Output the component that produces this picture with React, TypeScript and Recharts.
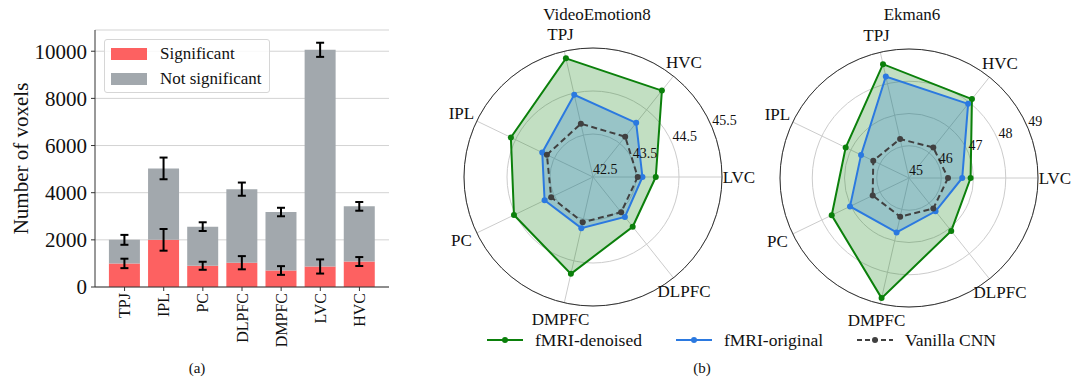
import React from "react";
import {
  BarChart,
  Bar,
  XAxis,
  YAxis,
  CartesianGrid,
  ErrorBar,
  Legend,
  RadarChart,
  Radar,
  PolarGrid,
  PolarAngleAxis,
  PolarRadiusAxis,
} from "recharts";

const SERIF = '"Liberation Serif", "DejaVu Serif", serif';

// (a) voxel counts per region
const barRegions = ["TPJ", "IPL", "PC", "DLPFC", "DMPFC", "LVC", "HVC"];
const sigCounts = [1000, 2000, 900, 1030, 700, 870, 1080];
const sigErr = [200, 460, 170, 280, 185, 300, 190];
const totalCounts = [2000, 5030, 2560, 4150, 3180, 10060, 3420];
const totalErr = [210, 460, 185, 280, 180, 300, 185];
const voxelTicks = [0, 2000, 4000, 6000, 8000, 10000];

// (b) accuracy per region, listed clockwise from LVC (3 o'clock)
const radarRegions = ["LVC", "DLPFC", "DMPFC", "PC", "IPL", "TPJ", "HVC"];
const ve8Denoised = [43.96, 43.98, 44.81, 44.54, 44.62, 45.33, 45.07];
const ve8Original = [43.65, 43.69, 43.72, 43.75, 43.81, 44.46, 44.11];
const ve8Vanilla = [43.54, 43.55, 43.58, 43.58, 43.69, 43.77, 43.7];
const ve8Ticks = [42.5, 43.5, 44.5, 45.5];
const ek6Denoised = [46.91, 47.1, 48.82, 47.66, 47.18, 48.62, 48.13];
const ek6Original = [46.65, 46.32, 46.73, 47.03, 46.65, 48.23, 47.94];
const ek6Vanilla = [46.21, 46.21, 46.23, 46.25, 46.23, 46.24, 46.21];
const ek6Ticks = [45, 46, 47, 48, 49];

const RED = "#fd6161";
const GRAY = "#a2a8ad";
const GREEN = "#0b800b";
const BLUE = "#2b79e0";
const DARK = "#404040";
const R = 129;

const barData = barRegions.map((region, i) => ({
  region,
  sig: sigCounts[i],
  sigErr: sigErr[i],
  rest: totalCounts[i] - sigCounts[i],
  totalErr: totalErr[i],
}));

const radarData = (d: number[], o: number[], v: number[]) =>
  radarRegions.map((region, i) => ({
    region,
    denoised: d[i],
    original: o[i],
    vanilla: v[i],
  }));

const RotTick = ({ x, y, payload }: any) => (
  <text
    x={x}
    y={y}
    transform={`rotate(-90 ${x} ${y})`}
    textAnchor="end"
    dominantBaseline="central"
    fontSize={16}
    fontFamily={SERIF}
    fill="#111"
  >
    {payload.value}
  </text>
);

const BarLegend = () => (
  <div
    style={{
      border: "1px solid #d6d6d6",
      borderRadius: 3,
      background: "rgba(255,255,255,0.85)",
      padding: "1px 7px 1px 6px",
      fontFamily: SERIF,
      fontSize: 17,
      color: "#111",
    }}
  >
    {[
      ["Significant", RED],
      ["Not significant", GRAY],
    ].map(([name, c]) => (
      <div key={name} style={{ display: "flex", alignItems: "center", height: 25 }}>
        <span style={{ width: 36, height: 12, background: c, marginRight: 13 }} />
        <span>{name}</span>
      </div>
    ))}
  </div>
);

const makeAngleTick = (cx: number, cy: number) => (props: any) => {
  const { x, y, payload } = props;
  const dx = x - cx;
  const dy = y - cy;
  const d = Math.hypot(dx, dy) || 1;
  const px = cx + (dx / d) * (R + 17);
  const py = cy + (dy / d) * (R + 17);
  return (
    <text
      x={px}
      y={py}
      textAnchor="middle"
      dominantBaseline="central"
      fontSize={17}
      fontFamily={SERIF}
      fill="#111"
    >
      {payload.value}
    </text>
  );
};

const RadiusTick = ({ x, y, payload }: any) => (
  <text x={x} y={y - 3} textAnchor="start" fontSize={14} fontFamily={SERIF} fill="#111">
    {payload.value}
  </text>
);

function Spider({ data, ticks, cx, cy }: { data: any[]; ticks: number[]; cx: number; cy: number }) {
  const lo = ticks[0];
  const hi = ticks[ticks.length - 1];
  return (
    <RadarChart
      width={360}
      height={330}
      data={data}
      cx={cx}
      cy={cy}
      outerRadius={R}
      startAngle={0}
      endAngle={-360}
      margin={{ top: 0, right: 0, bottom: 0, left: 0 }}
    >
      <PolarGrid gridType="circle" stroke="#cccccc" />
      <PolarAngleAxis
        dataKey="region"
        axisLineType="circle"
        axisLine={{ stroke: "#333", strokeWidth: 1 }}
        tickLine={false}
        tick={makeAngleTick(cx, cy)}
      />
      <Radar
        dataKey="denoised"
        stroke={GREEN}
        strokeWidth={2}
        fill={GREEN}
        fillOpacity={0.25}
        dot={{ r: 3, fill: GREEN, fillOpacity: 1, strokeWidth: 0 }}
        isAnimationActive={false}
      />
      <Radar
        dataKey="original"
        stroke={BLUE}
        strokeWidth={2}
        fill="#1a73d8"
        fillOpacity={0.25}
        dot={{ r: 3, fill: BLUE, fillOpacity: 1, strokeWidth: 0 }}
        isAnimationActive={false}
      />
      <Radar
        dataKey="vanilla"
        stroke={DARK}
        strokeWidth={2}
        strokeDasharray="6 3.5"
        fill="none"
        fillOpacity={0}
        dot={{ r: 3, fill: DARK, fillOpacity: 1, strokeWidth: 0 }}
        isAnimationActive={false}
      />
      <PolarRadiusAxis
        type="number"
        angle={22.5}
        domain={[lo, hi]}
        allowDecimals
        allowDataOverflow
        tickCount={Math.round((hi - lo) * 2) + 1}
        ticks={ticks as any}
        axisLine={false}
        tickLine={false}
        tick={RadiusTick}
      />
    </RadarChart>
  );
}

const legendItems = [
  { name: "fMRI-denoised", color: GREEN, dash: undefined as string | undefined },
  { name: "fMRI-original", color: BLUE, dash: undefined },
  { name: "Vanilla CNN", color: DARK, dash: "5 3" },
];

export default function App() {
  return (
    <div
      style={{
        position: "relative",
        width: 1080,
        height: 391,
        margin: -8,
        background: "#fff",
        fontFamily: SERIF,
        color: "#111",
        overflow: "hidden",
      }}
    >
      <div style={{ position: "absolute", left: 0, top: 0 }}>
        <BarChart
          width={400}
          height={391}
          data={barData}
          margin={{ top: 30, right: 11, bottom: 34, left: 0 }}
          barCategoryGap="10%"
        >
          <CartesianGrid vertical={false} stroke="#d3d3d3" />
          <XAxis
            dataKey="region"
            height={70}
            padding={{ left: 10, right: 10 }}
            tickSize={4}
            tickMargin={2}
            interval={0}
            axisLine={{ stroke: "#333" }}
            tickLine={{ stroke: "#333" }}
            tick={<RotTick />}
          />
          <XAxis
            xAxisId="top"
            orientation="top"
            dataKey="region"
            height={0}
            tick={false}
            tickLine={false}
            axisLine={{ stroke: "#333" }}
          />
          <YAxis
            width={95}
            domain={[0, 10900]}
            ticks={voxelTicks}
            tickSize={4}
            tickMargin={4}
            axisLine={{ stroke: "#333" }}
            tickLine={{ stroke: "#333" }}
            tick={{ fontSize: 21, fill: "#111", fontFamily: SERIF }}
            label={{
              value: "Number of voxels",
              angle: -90,
              position: "insideLeft",
              offset: 21,
              style: { textAnchor: "middle", fontSize: 21, fill: "#111", fontFamily: SERIF },
            }}
          />
          <YAxis
            yAxisId="right"
            orientation="right"
            width={0}
            tick={false}
            tickLine={false}
            axisLine={{ stroke: "#333" }}
          />
          <Bar dataKey="sig" stackId="v" fill={RED} isAnimationActive={false}>
            <ErrorBar dataKey="sigErr" width={4} strokeWidth={2} stroke="#000" direction="y" />
          </Bar>
          <Bar dataKey="rest" stackId="v" fill={GRAY} isAnimationActive={false}>
            <ErrorBar dataKey="totalErr" width={4} strokeWidth={2} stroke="#000" direction="y" />
          </Bar>
          <Legend
            layout="horizontal"
            verticalAlign="middle"
            align="center"
            wrapperStyle={{ left: 104, top: 39, width: "auto", height: "auto" }}
            content={() => <BarLegend />}
          />
        </BarChart>
      </div>
      <div style={{ position: "absolute", left: 167, top: 360, width: 60, textAlign: "center", fontSize: 15 }}>
        (a)
      </div>

      <div style={{ position: "absolute", left: 497, top: 5, width: 200, textAlign: "center", fontSize: 17 }}>
        VideoEmotion8
      </div>
      <div style={{ position: "absolute", left: 812, top: 5, width: 200, textAlign: "center", fontSize: 17 }}>
        Ekman6
      </div>
      <div style={{ position: "absolute", left: 413, top: 0 }}>
        <Spider data={radarData(ve8Denoised, ve8Original, ve8Vanilla)} ticks={ve8Ticks} cx={180} cy={177} />
      </div>
      <div style={{ position: "absolute", left: 729, top: 0 }}>
        <Spider data={radarData(ek6Denoised, ek6Original, ek6Vanilla)} ticks={ek6Ticks} cx={180} cy={178} />
      </div>

      <div
        style={{
          position: "absolute",
          left: 487,
          top: 330,
          display: "flex",
          alignItems: "center",
          fontSize: 17.5,
          height: 20,
        }}
      >
        {legendItems.map((it) => (
          <div key={it.name} style={{ display: "flex", alignItems: "center", marginRight: 34 }}>
            <svg width={36} height={10} style={{ marginRight: 12 }}>
              <line x1={0} y1={5} x2={36} y2={5} stroke={it.color} strokeWidth={2} strokeDasharray={it.dash} />
              <circle cx={18} cy={5} r={3} fill={it.color} />
            </svg>
            <span>{it.name}</span>
          </div>
        ))}
      </div>
      <div style={{ position: "absolute", left: 672, top: 360, width: 60, textAlign: "center", fontSize: 15 }}>
        (b)
      </div>
    </div>
  );
}
